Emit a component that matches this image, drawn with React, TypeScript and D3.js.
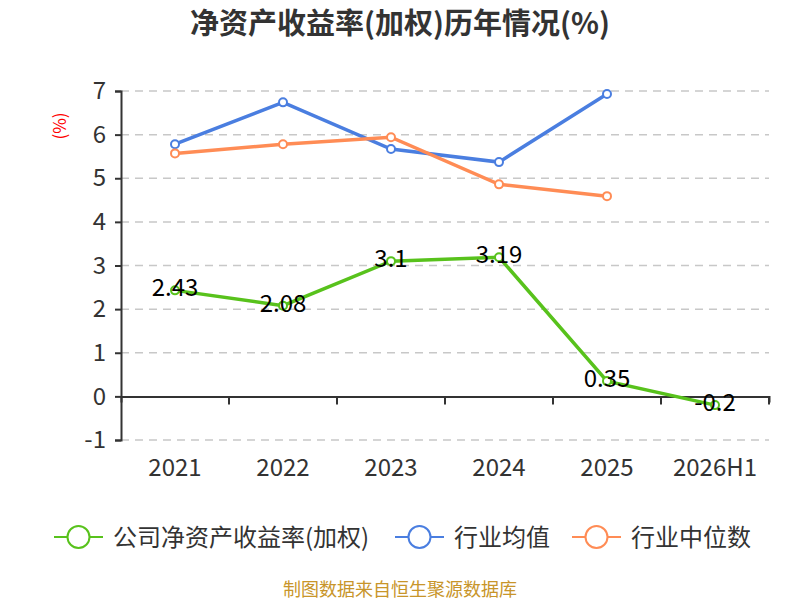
import { useEffect, useRef } from "react"
import * as d3 from "d3"

const categories = ["2021", "2022", "2023", "2024", "2025", "2026H1"]
const companyRoe = [2.43, 2.08, 3.1, 3.19, 0.35, -0.2]
const industryMean = [5.78, 6.74, 5.67, 5.37, 6.93, null]
const industryMedian = [5.57, 5.78, 5.94, 4.86, 4.59, null]
const yTicks = [-1, 0, 1, 2, 3, 4, 5, 6, 7]

const seriesList = [
  { name: "公司净资产收益率(加权)", values: companyRoe, color: "#58c21c", labels: true },
  { name: "行业均值", values: industryMean, color: "#4a7ee0", labels: false },
  { name: "行业中位数", values: industryMedian, color: "#ff8c55", labels: false },
]

const FONT = "'Noto Sans CJK SC', 'Noto Sans', sans-serif"

export default function App() {
  const svgRef = useRef(null)

  useEffect(() => {
    if (!svgRef.current) return
    const svg = d3.select(svgRef.current)
    svg.selectAll("*").remove()

    const width = 800
    const height = 600
    const margin = { top: 91, right: 31, bottom: 160, left: 121 }
    const innerWidth = width - margin.left - margin.right
    const innerHeight = height - margin.top - margin.bottom

    const x = d3.scaleBand().domain(categories).range([0, innerWidth])
    const y = d3.scaleLinear().domain([-1, 7]).range([innerHeight, 0])

    const g = svg.append("g").attr("transform", `translate(${margin.left},${margin.top})`)

    // 标题
    svg
      .append("text")
      .attr("x", width / 2)
      .attr("y", 34)
      .attr("text-anchor", "middle")
      .attr("font-size", "29px")
      .attr("font-weight", "bold")
      .attr("fill", "#333")
      .attr("font-family", FONT)
      .text("净资产收益率(加权)历年情况(%)")

    // 单位
    svg
      .append("text")
      .attr("transform", `translate(66,126) rotate(-90)`)
      .attr("text-anchor", "middle")
      .attr("font-size", "17px")
      .attr("fill", "#ff0000")
      .attr("font-family", FONT)
      .text("(%)")

    // 网格线
    g.selectAll(".grid")
      .data(yTicks.filter((t) => t !== 0))
      .enter()
      .append("line")
      .attr("x1", 0)
      .attr("x2", innerWidth)
      .attr("y1", (d) => y(d))
      .attr("y2", (d) => y(d))
      .attr("stroke", "#c8c8c8")
      .attr("stroke-width", 1.5)
      .attr("stroke-dasharray", "8,6")

    // Y轴
    const yAxis = g
      .append("g")
      .call(d3.axisLeft(y).tickValues(yTicks).tickSize(6).tickPadding(9).tickFormat((d) => String(d)))
    yAxis.select(".domain").attr("stroke", "#333").attr("stroke-width", 2)
    yAxis.selectAll(".tick line").attr("stroke", "#333").attr("stroke-width", 2)
    yAxis
      .selectAll("text")
      .attr("font-size", "24px")
      .attr("fill", "#333")
      .attr("font-family", FONT)

    // X轴（零线）
    const xAxis = g
      .append("g")
      .attr("transform", `translate(0,${y(0)})`)
      .call(d3.axisBottom(x).tickSize(6).tickSizeOuter(6).tickFormat(() => ""))
    xAxis.select(".domain").attr("stroke", "#333").attr("stroke-width", 2)
    xAxis.selectAll(".tick line").remove()
    // 类目边界刻度
    const bounds = categories.map((c) => x(c)).concat([innerWidth]).slice(1)
    xAxis
      .selectAll(".bound")
      .data(bounds)
      .enter()
      .append("line")
      .attr("x1", (d) => d)
      .attr("x2", (d) => d)
      .attr("y1", 0)
      .attr("y2", 8)
      .attr("stroke", "#333")
      .attr("stroke-width", 2)

    // X轴标签
    g.selectAll(".xlabel")
      .data(categories)
      .enter()
      .append("text")
      .attr("x", (d) => x(d) + x.bandwidth() / 2)
      .attr("y", innerHeight + 36)
      .attr("text-anchor", "middle")
      .attr("font-size", "24px")
      .attr("fill", "#333")
      .attr("font-family", FONT)
      .text((d) => d)

    const cx = (i) => x(categories[i]) + x.bandwidth() / 2

    seriesList.forEach((s) => {
      const pts = s.values.map((v, i) => ({ v, i })).filter((p) => p.v !== null)
      const line = d3
        .line()
        .x((p) => cx(p.i))
        .y((p) => y(p.v))
      g.append("path")
        .datum(pts)
        .attr("d", line)
        .attr("fill", "none")
        .attr("stroke", s.color)
        .attr("stroke-width", 3.5)

      g.selectAll(null)
        .data(pts)
        .enter()
        .append("circle")
        .attr("cx", (p) => cx(p.i))
        .attr("cy", (p) => y(p.v))
        .attr("r", 4)
        .attr("fill", "#fff")
        .attr("stroke", s.color)
        .attr("stroke-width", 2)

      if (s.labels) {
        g.selectAll(null)
          .data(pts)
          .enter()
          .append("text")
          .attr("x", (p) => cx(p.i))
          .attr("y", (p) => y(p.v) + 6)
          .attr("text-anchor", "middle")
          .attr("font-size", "24px")
          .attr("fill", "#000")
          .attr("font-family", FONT)
          .text((p) => String(p.v))
      }
    })

    // 图例
    const legendX = [54, 395, 572]
    const legend = svg.append("g").attr("transform", `translate(0,537)`)
    seriesList.forEach((s, i) => {
      const lg = legend.append("g").attr("transform", `translate(${legendX[i]},0)`)
      lg.append("line").attr("x1", 0).attr("x2", 49).attr("y1", 0).attr("y2", 0).attr("stroke", s.color).attr("stroke-width", 2)
      lg.append("circle").attr("cx", 24.5).attr("cy", 0).attr("r", 11).attr("fill", "#fff").attr("stroke", s.color).attr("stroke-width", 2)
      lg.append("text")
        .attr("x", 59)
        .attr("y", 9)
        .attr("font-size", "24px")
        .attr("fill", "#333")
        .attr("font-family", FONT)
        .text(s.name)
    })

    // 数据来源
    svg
      .append("text")
      .attr("x", width / 2)
      .attr("y", 596)
      .attr("text-anchor", "middle")
      .attr("font-size", "18px")
      .attr("fill", "#c8952a")
      .attr("font-family", FONT)
      .text("制图数据来自恒生聚源数据库")

    svg.attr("width", width).attr("height", height).attr("viewBox", [0, 0, width, height])
  }, [])

  return (
    <div style={{ position: "absolute", left: 0, top: 0 }}>
      <svg ref={svgRef}></svg>
    </div>
  )
}
